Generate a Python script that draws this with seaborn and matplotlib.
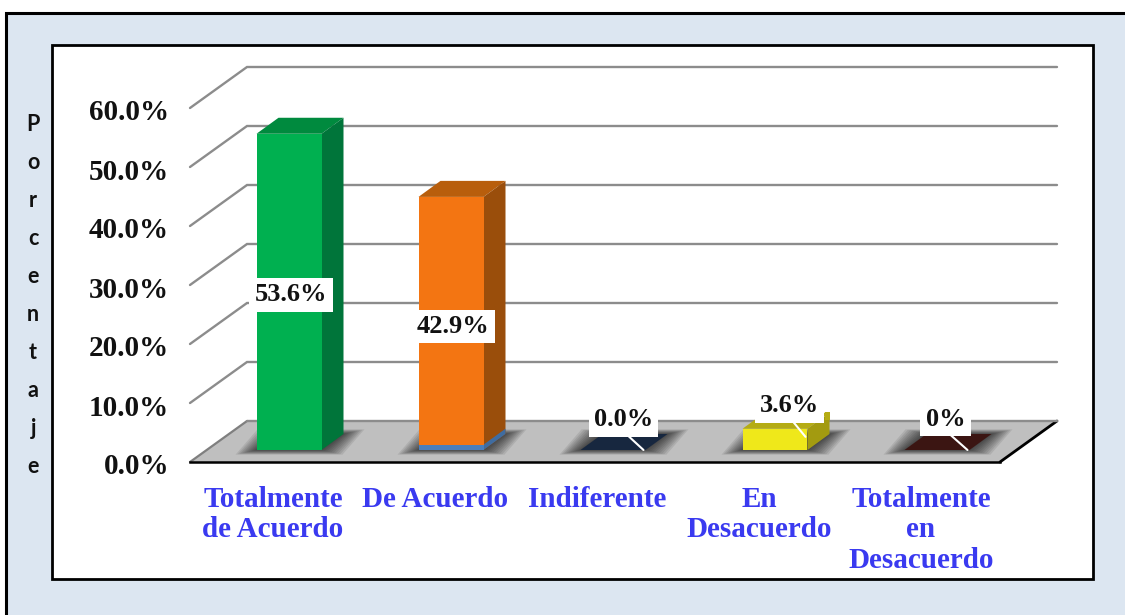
import matplotlib
matplotlib.use("Agg")
import matplotlib.pyplot as plt
from matplotlib.patches import Polygon, Rectangle
from matplotlib.transforms import ScaledTranslation
import seaborn as sns

categories = ["Totalmente\nde Acuerdo", "De Acuerdo", "Indiferente", "En\nDesacuerdo", "Totalmente\nen\nDesacuerdo"]
values = [53.6, 42.9, 0.0, 3.6, 0.0]
value_labels = ["53.6%", "42.9%", "0.0%", "3.6%", "0%"]
base_strip = [0.0, 0.9, 0.0, 0.0, 0.0]
y_ticks = [0, 10, 20, 30, 40, 50, 60]
y_tick_labels = ["0.0%", "10.0%", "20.0%", "30.0%", "40.0%", "50.0%", "60.0%"]
y_title = "Porcentaje"

front_colors = ["#00B050", "#F37512", "#17273F", "#EFE81A", "#3B1512"]
top_colors = ["#008A3E", "#B85E0C", "#17273F", "#B5AC14", "#3B1512"]
side_colors = ["#00753A", "#9A4E0B", "#17273F", "#A39B10", "#3B1512"]

W, H = 1125, 615
sns.set_style("white")
plt.rcParams["font.family"] = ["Liberation Serif", "DejaVu Serif"]

fig = plt.figure(figsize=(W / 100, H / 100), dpi=100, facecolor="white")


def fx(px):
    return px / W


def fy(px):
    return 1 - px / H


fig.add_artist(Rectangle((fx(6), fy(H + 30)), fx(W + 40), (H + 30 - 13) / H, transform=fig.transFigure,
                         fc="#DCE6F1", ec="black", lw=2.2, zorder=-5))
fig.add_artist(Rectangle((fx(52), fy(579)), (1092.5 - 52) / W, (579 - 45) / H, transform=fig.transFigure,
                         fc="white", ec="black", lw=2.0, zorder=-4))

# axes: value axis runs 0 -> 60 across pixel rows 462 -> 108
ax = fig.add_axes([fx(190), fy(462), (1000 - 190) / W, (462 - 108) / H])
ax.patch.set_visible(False)

PX_X = 1 / 162.0     # categories per pixel
PX_Y = 1 / 5.9       # percent per pixel
SHIFT = 18 * PX_X    # bars sit behind the front floor edge
BASE = 12 * PX_Y
BAR_W = 65 * PX_X
BAR_DX, BAR_DY = 22 * PX_X, 16 * PX_Y
WALL_DX, WALL_DY = 57 * PX_X, 41 * PX_Y

xl = -0.5 - SHIFT
xr = xl + 5

sns.barplot(x=categories, y=values, hue=categories, palette=front_colors, width=BAR_W, dodge=False,
            bottom=BASE, legend=False, saturation=1, ax=ax, zorder=5, linewidth=0)
sns.barplot(x=categories, y=base_strip, color="#4A7EBB", width=BAR_W, bottom=BASE, saturation=1,
            ax=ax, zorder=5.2, linewidth=0)

ax.set_xlim(xl, xr)
ax.set_ylim(0, 60)

# floor
ax.add_patch(Polygon([(xl, 0), (xr, 0), (xr + WALL_DX, WALL_DY), (xl + WALL_DX, WALL_DY)],
                     closed=True, fc="#BFBFBF", ec="none", zorder=1, clip_on=False))
ax.plot([xl, xl + WALL_DX], [0, WALL_DY], color="#7F7F7F", lw=1.6, zorder=1.5, clip_on=False)
ax.plot([xr, xr + WALL_DX], [0, WALL_DY], color="black", lw=2, zorder=1.5, clip_on=False)

# wall grid lines
for t in y_ticks:
    ys = [t, t + WALL_DY, t + WALL_DY]
    xs = [xl, xl + WALL_DX, xr + WALL_DX]
    if t == 0:
        xs, ys = xs[1:], ys[1:]
    ax.plot(xs, ys, color="#8C8C8C", lw=1.7, zorder=1.5, clip_on=False, solid_joinstyle="miter")

# shadows, tops and sides of the bars
for i, v in enumerate(values):
    left, right = i - BAR_W / 2, i + BAR_W / 2
    for k in range(10):
        e = (21 - 2.2 * k)
        ex, ey = e * PX_X, e * 0.22 * PX_Y
        ax.add_patch(Polygon([(left - ex, BASE - ey), (right + ex, BASE - ey),
                              (right + ex + BAR_DX, BASE + BAR_DY + ey),
                              (left - ex + BAR_DX, BASE + BAR_DY + ey)],
                             closed=True, fc="black", ec="none", alpha=0.085, zorder=2, clip_on=False))
    top = BASE + v
    ax.add_patch(Polygon([(left, top), (right, top), (right + BAR_DX, top + BAR_DY), (left + BAR_DX, top + BAR_DY)],
                         closed=True, fc=top_colors[i], ec="none", zorder=3, clip_on=False))
    if v > 0:
        ax.add_patch(Polygon([(right, BASE), (right + BAR_DX, BASE + BAR_DY),
                              (right + BAR_DX, top + BAR_DY), (right, top)],
                             closed=True, fc=side_colors[i], ec="none", zorder=4))
    if base_strip[i] > 0:
        st = BASE + base_strip[i]
        ax.add_patch(Polygon([(right, BASE), (right + BAR_DX, BASE + BAR_DY),
                              (right + BAR_DX, st + BAR_DY), (right, st)],
                             closed=True, fc="#3F6CA0", ec="none", zorder=4.2))

# small tab on the yellow bar's back corner
iy = categories.index("En\nDesacuerdo")
tx = iy + BAR_W / 2 + BAR_DX
ty = BASE + values[iy] + BAR_DY
ax.add_patch(Rectangle((tx - 5 * PX_X, ty - 7 * PX_Y), 5 * PX_X, 8 * PX_Y, fc="#B5AC14", ec="none", zorder=4))

# data labels
box = dict(boxstyle="square,pad=0.2", fc="white", ec="none")
label_font = dict(fontsize=19, fontweight="bold", color="#111111", ha="center", va="center")
for i in (0, 1):
    ax.text(i + 2 * PX_X, BASE + values[i] / 2 - 3 * PX_Y, value_labels[i], bbox=box, zorder=8, **label_font)

offsets = {2: (-20, 30), 3: (-16, 31), 4: (-22, 31)}
for i, (ox, oy) in offsets.items():
    anchor = (i + BAR_W / 2 - 2 * PX_X, BASE + values[i] * 0.62)
    ax.annotate(value_labels[i], xy=anchor, xytext=(ox, oy), textcoords="offset pixels",
                bbox=box, zorder=8, annotation_clip=False,
                arrowprops=dict(arrowstyle="-", color="white", lw=1.5, shrinkA=0, shrinkB=0,
                                relpos=(0.5, 0.0), patchA=None),
                **label_font)

# axes text
ax.set_yticks(y_ticks)
ax.set_yticklabels(y_tick_labels, fontsize=21, fontweight="bold", color="#111111")
ax.set_xticks([i - SHIFT + 2 * PX_X for i in range(len(categories))])
ax.set_xticklabels(categories, fontsize=21, fontweight="bold", color="#3A3AF0", linespacing=1.18)
ax.tick_params(axis="y", length=0, pad=15)
ax.tick_params(axis="x", length=0, pad=17)
ax.grid(False)
down = ScaledTranslation(0, -2 / 100, fig.dpi_scale_trans)
for lab in ax.get_yticklabels():
    lab.set_transform(lab.get_transform() + down)

for s in ("top", "right", "left"):
    ax.spines[s].set_visible(False)
ax.spines["bottom"].set_color("black")
ax.spines["bottom"].set_linewidth(1.8)
ax.spines["bottom"].set_zorder(6)

ax.set_xlabel("")
ax.set_ylabel("\n".join(y_title), rotation=0, fontsize=15.5, fontweight="bold", family=["Lato", "DejaVu Sans"],
              color="#111111", ha="center", va="center", linespacing=2.0)
ax.yaxis.set_label_coords((33 - 190) / 810, (462 - 295.5) / 354)

fig.savefig("out.png", dpi=100)
